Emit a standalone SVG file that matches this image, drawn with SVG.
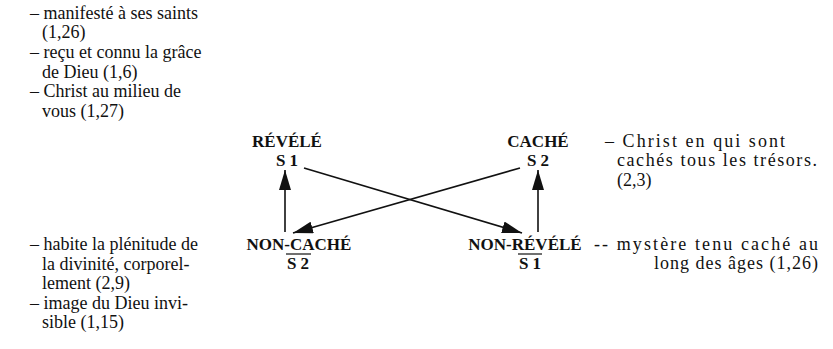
<svg xmlns="http://www.w3.org/2000/svg" width="833" height="349" viewBox="0 0 833 349">
<style>
.t{font-family:"Liberation Serif","DejaVu Serif","Times New Roman",Times,serif;font-size:18px;fill:#111}
.b{font-family:"Liberation Serif","DejaVu Serif","Times New Roman",Times,serif;font-size:17px;font-weight:bold;fill:#111}
.c{text-anchor:middle}
.e{text-anchor:end}
.ln{stroke:#111;stroke-width:1.6;fill:none}
.ol{stroke:#111;stroke-width:1.2}
</style>
<defs>
<marker id="ah" viewBox="0 0 20 12" refX="20" refY="6" markerWidth="20" markerHeight="12" markerUnits="userSpaceOnUse" orient="auto">
<path d="M0,0 L20,6 L0,12 Z" fill="#111"/>
</marker>
</defs>
<rect width="833" height="349" fill="#fff"/>
<g id="notes-top-left">
<text class="t" x="30" y="19">– manifesté à ses saints</text>
<text class="t" x="42" y="38">(1,26)</text>
<text class="t" x="30" y="58">– reçu et connu la grâce</text>
<text class="t" x="42" y="78">de Dieu (1,6)</text>
<text class="t" x="30" y="97">– Christ au milieu de</text>
<text class="t" x="42" y="117">vous (1,27)</text>
</g>
<g id="notes-bottom-left">
<text class="t" x="30" y="250">– habite la plénitude de</text>
<text class="t" x="42" y="270">la divinité, corporel-</text>
<text class="t" x="42" y="289">lement (2,9)</text>
<text class="t" x="30" y="309">– image du Dieu invi-</text>
<text class="t" x="42" y="328">sible (1,15)</text>
</g>
<g id="notes-top-right">
<text class="t" x="605" y="147" textLength="180" lengthAdjust="spacing">– Christ en qui sont</text>
<text class="t" x="617" y="166" textLength="200" lengthAdjust="spacing">cachés tous les trésors.</text>
<text class="t" x="617" y="186">(2,3)</text>
</g>
<g id="notes-bottom-right">
<text class="t" x="594" y="250" textLength="224" lengthAdjust="spacing">-- mystère tenu caché au</text>
<text class="t" x="654" y="269" textLength="164" lengthAdjust="spacing">long des âges (1,26)</text>
</g>
<g id="node-revele">
<text class="b c" x="287" y="147">RÉVÉLÉ</text>
<text class="b c" x="287" y="166">S 1</text>
</g>
<g id="node-cache">
<text class="b c" x="538" y="147">CACHÉ</text>
<text class="b c" x="538" y="166">S 2</text>
</g>
<g id="node-non-cache">
<text class="b c" x="299" y="250">NON-CACHÉ</text>
<line class="ol" x1="286" y1="254" x2="311" y2="254"/>
<text class="b c" x="298" y="269">S 2</text>
</g>
<g id="node-non-revele">
<text class="b c" x="525" y="250">NON-RÉVÉLÉ</text>
<line class="ol" x1="518" y1="254" x2="542" y2="254"/>
<text class="b c" x="530" y="269">S 1</text>
</g>
<g id="connectors">
<line class="ln" x1="285" y1="232" x2="285" y2="170" marker-end="url(#ah)"/>
<line class="ln" x1="538" y1="232" x2="538" y2="170" marker-end="url(#ah)"/>
<line class="ln" x1="304" y1="168" x2="522" y2="233" marker-end="url(#ah)"/>
<line class="ln" x1="520" y1="168" x2="293" y2="233" marker-end="url(#ah)"/>
</g>
</svg>
